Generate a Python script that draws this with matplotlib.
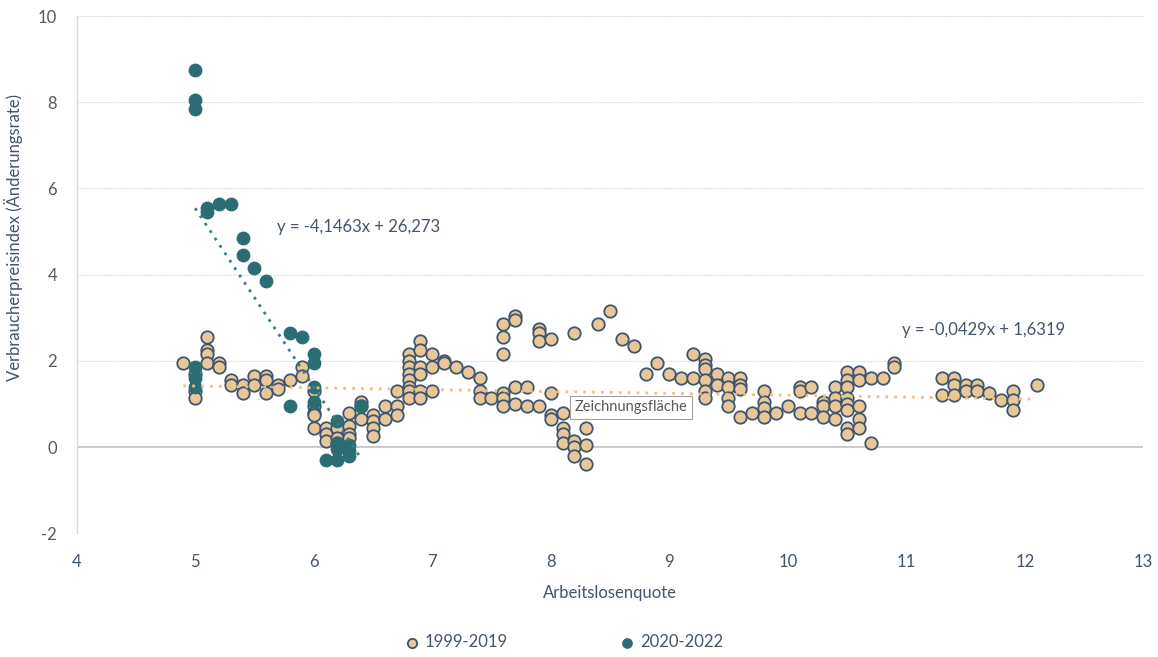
"""
Scatter: Arbeitslosenquote vs. Verbraucherpreisindex, 1999-2019 vs 2020-2022,
with linear trend lines (Excel-style look).
"""
import matplotlib
matplotlib.use("Agg")
import matplotlib.pyplot as plt
import numpy as np

plt.rcParams["font.family"] = ["Lato", "DejaVu Sans"]
plt.rcParams["axes.unicode_minus"] = False

# --- data ---
# 1999-2019 (unemployment rate, CPI change)
old_x = [4.9,
         5.0, 5.0, 5.0,
         5.1, 5.1, 5.1, 5.1,
         5.2, 5.2, 5.3, 5.3, 5.4, 5.4, 5.5, 5.5,
         5.6, 5.6, 5.6, 5.7, 5.7, 5.8, 5.9, 5.9,
         6.0, 6.0, 6.0, 6.0, 6.0,
         6.1, 6.1, 6.1, 6.2, 6.2, 6.2,
         6.3, 6.3, 6.3, 6.3, 6.4, 6.4, 6.4,
         6.5, 6.5, 6.5, 6.5, 6.6, 6.6, 6.7, 6.7, 6.7,
         6.8, 6.8, 6.8, 6.8, 6.8, 6.8, 6.8, 6.8,
         6.9, 6.9, 6.9, 6.9, 6.9, 6.9,
         7.0, 7.0, 7.0, 7.1, 7.1, 7.2, 7.3,
         7.4, 7.4, 7.4, 7.5,
         7.6, 7.6, 7.6, 7.6, 7.6, 7.6,
         7.7, 7.7, 7.7, 7.7, 7.8, 7.8,
         7.9, 7.9, 7.9, 7.9, 8.0, 8.0, 8.0, 8.0,
         8.1, 8.1, 8.1, 8.1, 8.2, 8.2, 8.2, 8.2,
         8.3, 8.3, 8.3, 8.4, 8.5, 8.6, 8.7, 8.8, 8.9, 9.0, 9.1,
         9.2, 9.2,
         9.3, 9.3, 9.3, 9.3, 9.3, 9.3,
         9.4, 9.4, 9.5, 9.5, 9.5, 9.5,
         9.6, 9.6, 9.6, 9.6, 9.7,
         9.8, 9.8, 9.8, 9.8, 9.9, 10.0,
         10.1, 10.1, 10.1, 10.2, 10.2,
         10.3, 10.3, 10.3, 10.4, 10.4, 10.4, 10.4,
         10.5, 10.5, 10.5, 10.5, 10.5, 10.5, 10.5, 10.5,
         10.6, 10.6, 10.6, 10.6, 10.6,
         10.7, 10.7, 10.8, 10.9, 10.9,
         11.3, 11.3, 11.4, 11.4, 11.4, 11.5, 11.5, 11.6, 11.6,
         11.7, 11.8, 11.9, 11.9, 11.9, 12.1]
old_y = [1.95,
         1.7, 1.3, 1.15,
         2.55, 2.25, 2.15, 1.95,
         1.95, 1.85, 1.55, 1.45, 1.45, 1.25, 1.65, 1.45,
         1.65, 1.55, 1.25, 1.45, 1.35, 1.55, 1.85, 1.65,
         1.3, 0.95, 0.8, 0.75, 0.45,
         0.45, 0.3, 0.15, 0.45, 0.2, 0.1,
         0.8, 0.5, 0.3, 0.2, 1.05, 0.95, 0.65,
         0.75, 0.6, 0.45, 0.25, 0.95, 0.65, 1.3, 0.95, 0.75,
         2.15, 2.0, 1.85, 1.7, 1.55, 1.4, 1.3, 1.15,
         2.45, 2.25, 1.85, 1.7, 1.3, 1.15,
         2.15, 1.85, 1.3, 2.0, 1.95, 1.85, 1.75,
         1.6, 1.3, 1.15, 1.15,
         2.85, 2.55, 2.15, 1.25, 1.15, 0.95,
         3.05, 2.95, 1.4, 1.0, 1.4, 0.95,
         2.75, 2.65, 2.45, 0.95, 2.5, 1.25, 0.75, 0.65,
         0.8, 0.45, 0.3, 0.1, 2.65, 0.15, 0.0, -0.2,
         0.45, 0.05, -0.4, 2.85, 3.15, 2.5, 2.35, 1.7, 1.95, 1.7, 1.6,
         2.15, 1.6,
         2.05, 1.9, 1.8, 1.55, 1.3, 1.15,
         1.7, 1.45, 1.6, 1.4, 1.15, 0.95,
         1.6, 1.45, 1.35, 0.7, 0.8,
         1.3, 1.05, 0.9, 0.7, 0.8, 0.95,
         1.4, 1.3, 0.8, 1.4, 0.8,
         1.05, 0.95, 0.7, 1.4, 1.15, 0.95, 0.65,
         1.75, 1.55, 1.4, 1.15, 1.0, 0.85, 0.45, 0.3,
         1.75, 1.55, 0.95, 0.65, 0.45,
         1.6, 0.1, 1.6, 1.95, 1.85,
         1.6, 1.2, 1.6, 1.45, 1.2, 1.45, 1.3, 1.45, 1.3,
         1.25, 1.1, 1.3, 1.1, 0.85, 1.45]

# 2020-2022
new_x = [5.0, 5.0, 5.0, 5.0, 5.0, 5.0,
         5.1, 5.1, 5.2, 5.3, 5.4, 5.4, 5.5, 5.6,
         5.8, 5.8, 5.9,
         6.0, 6.0, 6.0, 6.0,
         6.1, 6.2, 6.2, 6.2, 6.2,
         6.3, 6.3, 6.3, 6.4]
new_y = [8.75, 8.05, 7.85, 1.85, 1.6, 1.4,
         5.55, 5.45, 5.65, 5.65, 4.85, 4.45, 4.15, 3.85,
         2.65, 0.95, 2.55,
         2.15, 1.95, 1.4, 1.05,
         -0.3, 0.6, 0.1, -0.05, -0.3,
         0.05, -0.1, -0.2, 0.95]

# trend line coefficients as printed on the chart (slope, intercept)
old_fit = (-0.0429, 1.6319)
new_fit = (-4.1463, 26.273)
old_label = "y = -0,0429x + 1,6319"
new_label = "y = -4,1463x + 26,273"

BEIGE = "#e8c898"
EDGE = "#3f5570"
TEAL = "#2b6d73"
TEXT = "#44546a"
GREY = "#595959"

fig = plt.figure(figsize=(11.58, 6.57), dpi=100)
ax = fig.add_axes([0.0662, 0.1883, 0.9211, 0.7873])

ax.scatter(old_x, old_y, s=80, color=BEIGE, edgecolor=EDGE, linewidth=1.3,
           zorder=3, label="1999-2019")
ax.scatter(new_x, new_y, s=80, color=TEAL, edgecolor=TEAL, linewidth=1.0,
           zorder=4, label="2020-2022")

# trend lines over the data range of each series
xs = np.array([min(old_x), max(old_x)])
ax.plot(xs, old_fit[0] * xs + old_fit[1], linestyle=(0, (1, 2.2)),
        color="#efbf7c", linewidth=2.0, zorder=5)
xs = np.array([min(new_x), max(new_x)])
ax.plot(xs, new_fit[0] * xs + new_fit[1], linestyle=(0, (1, 2.2)),
        color="#3a7f86", linewidth=2.0, zorder=5)

ax.text(5.69, 5.1, new_label, fontsize=12, color=TEXT, va="center", ha="left")
ax.text(10.96, 2.71, old_label, fontsize=12, color=TEXT, va="center", ha="left")

# screenshot tooltip
ax.text(8.2, 0.92, "Zeichnungsfläche", fontsize=10.5, color=GREY, va="center",
        ha="left", zorder=6,
        bbox=dict(boxstyle="square,pad=0.3", facecolor="white",
                  edgecolor="#a0a0a0", linewidth=0.8))

ax.set_xlim(4, 13)
ax.set_ylim(-2, 10)
ax.set_xticks(np.arange(4, 14, 1))
ax.set_yticks(np.arange(-2, 11, 2))
ax.tick_params(length=0, labelsize=12)
ax.tick_params(axis="x", colors=TEXT, pad=15)
ax.tick_params(axis="y", colors=GREY, pad=14)

ax.grid(axis="y", linestyle=(0, (1, 1)), color="#cdd6df", linewidth=0.8, zorder=0)
ax.axhline(0, color="#bfbfbf", linewidth=1.2, zorder=1)
for side in ("top", "right", "bottom"):
    ax.spines[side].set_visible(False)
ax.spines["left"].set_color("#d9d9d9")
ax.spines["left"].set_linewidth(1.0)

ax.set_xlabel("Arbeitslosenquote", fontsize=12, color=TEXT)
ax.set_ylabel("Verbraucherpreisindex (Änderungsrate)", fontsize=12, color=TEXT)
ax.xaxis.set_label_coords(0.5, -0.1)
ax.yaxis.set_label_coords(-0.05, 0.571)

handles, labels = ax.get_legend_handles_labels()
leg = fig.legend(handles, labels, loc="lower center", bbox_to_anchor=(0.487, -0.012),
                 ncol=2, frameon=False, fontsize=12, columnspacing=6.8,
                 handlelength=0.8, handletextpad=0.35, markerscale=0.75)
for t in leg.get_texts():
    t.set_color(TEXT)

fig.savefig("out.png", dpi=100)
